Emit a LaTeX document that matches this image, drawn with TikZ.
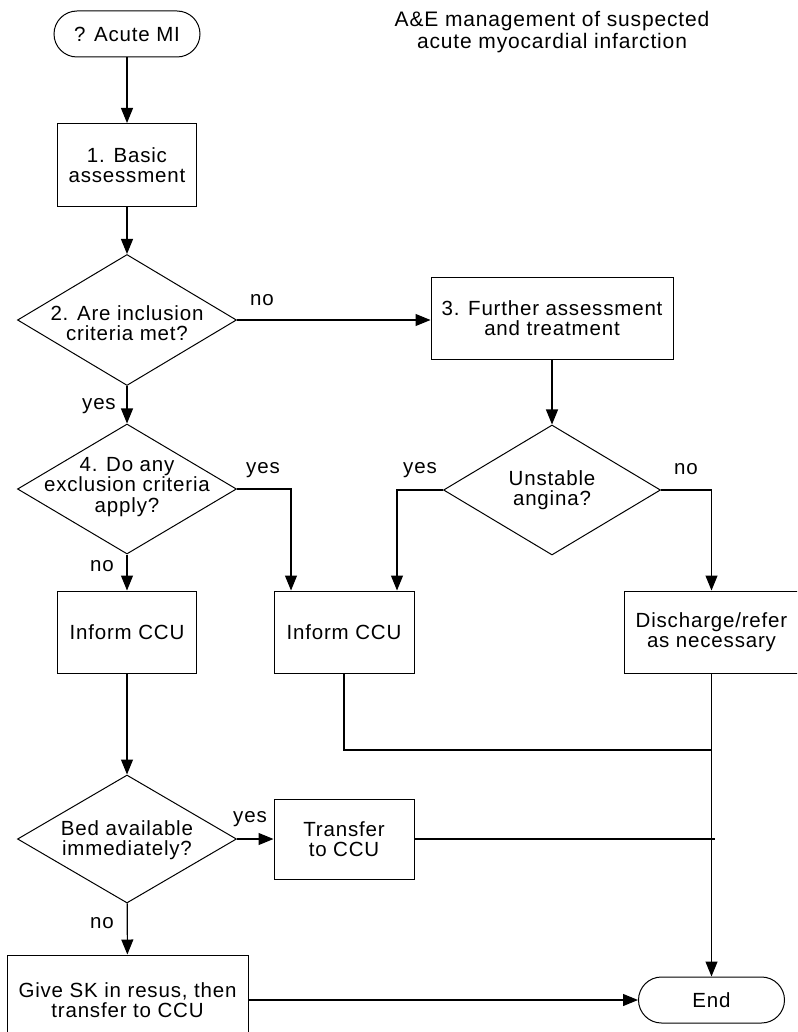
\documentclass[tikz,border=0pt]{standalone}
\usepackage{fontspec}
\setmainfont{Liberation Sans}[LetterSpace=4]
\usetikzlibrary{arrows.meta,shapes.geometric,shapes.misc}

\begin{document}
\begin{tikzpicture}[x=1pt,y=-1pt,
    every node/.style={font=\fontsize{20.5}{20.5}\selectfont, align=center},
    boite/.style={draw, line width=1pt, inner sep=0pt},
    term/.style={draw, rounded rectangle, line width=1pt, minimum width=146pt, minimum height=46pt, inner sep=0pt},
    decision/.style={draw, diamond, line width=1pt, minimum width=219pt, minimum height=131pt, inner sep=0pt},
    fleche/.style={line width=1.1pt, -{Triangle[length=15pt,width=12pt]}},
    trait/.style={line width=1.1pt}]
      % Cadre
      \useasboundingbox (0,0) rectangle (797,1032);
      \clip (0,0) rectangle (797,1032);

      % Titre
      \node[font=\fontsize{21}{22}\selectfont] (titre) at (552,32.5) {A\&E management of suspected\\acute myocardial infarction};

      % Etapes
      \node[term] (debut) at (127,34) {? Acute MI};
      \node[boite, minimum width=139pt, minimum height=83pt] (b1) at (127,165) {1. Basic\\assessment};
      \node[decision] (d2) at (127,320) {};
      \node (d2t) at (127,323) {2. Are inclusion\\criteria met?};
      \node[boite, minimum width=242pt, minimum height=82pt] (b3) at (552,318) {3. Further assessment\\and treatment};
      \node[decision, minimum width=217pt, minimum height=130pt] (d5) at (552,490) {};
      \node (d5t) at (552,490) {Unstable\\angina?};
      \node[decision, minimum height=130pt] (d4) at (127,489) {};
      \node (d4t) at (127,487) {4. Do any\\exclusion criteria\\apply?};
      \node[boite, minimum width=139pt, minimum height=82pt] (ccu1) at (127,632) {Inform CCU};
      \node[boite, minimum width=140pt, minimum height=82pt] (ccu2) at (344,632) {Inform CCU};
      \node[boite, minimum width=175pt, minimum height=82pt] (dis) at (711.5,632) {Discharge/refer\\as necessary};
      \node[decision, minimum height=128pt] (bed) at (127,839) {};
      \node (bedt) at (127,840) {Bed available\\immediately?};
      \node[boite, minimum width=140pt, minimum height=80pt] (tr) at (344,839) {Transfer\\to CCU};
      \node[boite, minimum width=241pt, minimum height=90pt] (sk) at (127.5,1000) {Give SK in resus, then\\transfer to CCU};
      \node[term] (fin) at (711.5,1000) {End};
      \coordinate (j1) at (711.5,750);

      % Fleches
      \draw[fleche] (debut) -- (b1);
      \draw[fleche] (b1) -- (d2);
      \draw[fleche] (d2.east) -- (d2.east -| b3.west);
      \draw[fleche] (d2) -- (d4);
      \draw[fleche] (b3) -- (d5);
      \draw[fleche] (d4.east) -| ([xshift=-53pt]ccu2.north);
      \draw[fleche] (d5.west) -| ([xshift=53pt]ccu2.north);
      \draw[fleche] (d5.east) -| (dis.north);
      \draw[fleche] (d4) -- (ccu1);
      \draw[fleche] (ccu1) -- (bed);
      \draw[fleche] (bed) -- (tr);
      \draw[fleche] (bed) -- (sk);
      \draw[fleche] (sk) -- (fin);
      \draw[fleche] (dis) -- (fin);
      \draw[trait] (ccu2.south) |- (j1);
      \draw[trait] (tr.east) -- ([xshift=3pt]tr.east -| fin.north);

      % Etiquettes
      \node (no1) at (262,300) {no};
      \node (yes1) at (99,406) {yes};
      \node (yes2) at (263,470) {yes};
      \node (no2) at (102,566) {no};
      \node (yes3) at (420,470) {yes};
      \node (no3) at (686,469) {no};
      \node (yes4) at (250,819) {yes};
      \node (no4) at (102,923) {no};
    \end{tikzpicture}
\end{document}
